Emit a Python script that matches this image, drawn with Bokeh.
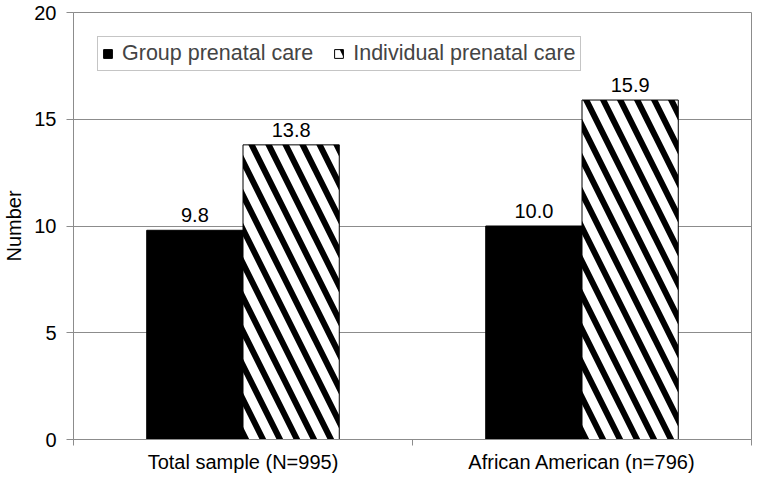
from bokeh.plotting import figure
from bokeh.models import ColumnDataSource, Range1d, FixedTicker, Legend, LegendItem
from bokeh.transform import dodge
from bokeh.core.properties import value
from bokeh.embed import file_html
from bokeh.resources import INLINE

categories = ["Total sample (N=995)", "African American (n=796)"]
group_values = [9.8, 10.0]
individual_values = [13.8, 15.9]
group_labels = ["9.8", "10.0"]
individual_labels = ["13.8", "15.9"]
y_ticks = [0, 5, 10, 15, 20]

FONT = "Liberation Sans"
GRAY = "#8c8c8c"
FS = "20px"

# category slots: each category occupies one unit, centred at i + 0.5
centers = [i + 0.5 for i in range(len(categories))]
edges = list(range(len(categories) + 1))

source = ColumnDataSource(dict(
    xc=centers, group=group_values, indiv=individual_values,
    glab=group_labels, ilab=individual_labels,
))

p = figure(width=752, height=475, x_range=Range1d(0, len(categories)),
           y_range=Range1d(0, 20), output_backend="svg", toolbar_location=None,
           min_border_left=72, min_border_right=1, min_border_top=12, min_border_bottom=30)

bw = 0.284
r1 = p.vbar(x=dodge("xc", -bw / 2), top="group", width=bw, source=source,
            fill_color="black", line_color="black")
r2 = p.vbar(x=dodge("xc", bw / 2), top="indiv", width=bw, source=source,
            fill_color="white", line_color="black", hatch_pattern="\\", hatch_color="black",
            hatch_scale=34, hatch_weight=6)

p.text(x=dodge("xc", -bw / 2), y="group", text="glab", source=source,
       text_align="center", text_baseline="bottom", y_offset=-8,
       text_font=value(FONT), text_font_size=FS, text_color="black")
p.text(x=dodge("xc", bw / 2), y="indiv", text="ilab", source=source,
       text_align="center", text_baseline="bottom", y_offset=-8,
       text_font=value(FONT), text_font_size=FS, text_color="black")

legend = Legend(items=[LegendItem(label="Group prenatal care", renderers=[r1]),
                       LegendItem(label="Individual prenatal care", renderers=[r2])],
                orientation="horizontal", location="top_left", margin=24,
                border_line_color=GRAY, border_line_width=1,
                label_text_font=FONT, label_text_font_size="21.5px", label_height=20,
                glyph_width=11, glyph_height=11, label_standoff=9, spacing=20,
                padding=4, background_fill_alpha=1)
p.add_layout(legend, "center")

p.outline_line_color = GRAY
p.outline_line_width = 1
p.xgrid.grid_line_color = None
p.ygrid.grid_line_color = GRAY
p.ygrid.grid_line_width = 1

p.xaxis.ticker = FixedTicker(ticks=centers, minor_ticks=edges)
p.xaxis.major_label_overrides = {c: lab for c, lab in zip(centers, categories)}
p.xaxis.axis_line_color = GRAY
p.xaxis.major_tick_line_color = None
p.xaxis.major_tick_out = 0
p.xaxis.major_tick_in = 0
p.xaxis.minor_tick_line_color = GRAY
p.xaxis.minor_tick_out = 6
p.xaxis.minor_tick_in = 0
p.xaxis.major_label_standoff = 5
p.xaxis.major_label_text_font = FONT
p.xaxis.major_label_text_font_size = FS
p.xaxis.major_label_text_color = "black"

p.yaxis.ticker = FixedTicker(ticks=y_ticks)
p.yaxis.axis_line_color = GRAY
p.yaxis.major_tick_line_color = GRAY
p.yaxis.major_tick_out = 7
p.yaxis.major_tick_in = 0
p.yaxis.minor_tick_line_color = None
p.yaxis.major_label_standoff = 10
p.yaxis.major_label_text_font = FONT
p.yaxis.major_label_text_font_size = FS
p.yaxis.major_label_text_color = "black"
p.yaxis.axis_label = "Number"
p.yaxis.axis_label_text_font = FONT
p.yaxis.axis_label_text_font_size = FS
p.yaxis.axis_label_text_font_style = "normal"
p.yaxis.axis_label_text_color = "black"
p.yaxis.axis_label_standoff = 6

open("out.html", "w").write(file_html(p, INLINE))
